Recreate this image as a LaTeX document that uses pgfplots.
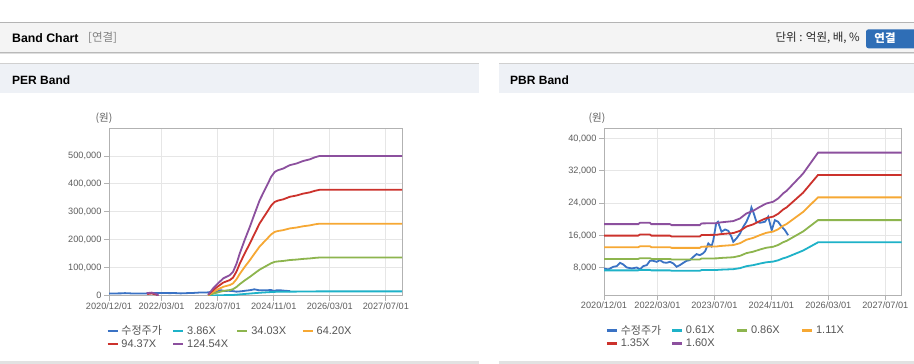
\documentclass[border=0pt]{standalone}
\usepackage{fontspec}
\setmainfont{Liberation Sans}
\newfontfamily\kr{Noto Sans CJK KR}
\usepackage{pgfplots}
\pgfplotsset{compat=1.18}
\usepackage{pgfplotstable}

\definecolor{cBlue}{RGB}{58,114,196}
\definecolor{cCyan}{RGB}{30,178,200}
\definecolor{cGreen}{RGB}{141,181,78}
\definecolor{cOrange}{RGB}{246,168,52}
\definecolor{cRed}{RGB}{204,50,44}
\definecolor{cPurple}{RGB}{140,80,158}
\definecolor{gridc}{RGB}{230,230,230}
\definecolor{axc}{RGB}{178,178,178}
\definecolor{tickc}{RGB}{95,95,95}
\definecolor{legc}{RGB}{85,85,85}
\definecolor{hdrbg}{RGB}{244,244,244}
\definecolor{topline}{RGB}{180,180,180}
\definecolor{shadowA}{RGB}{185,185,185}
\definecolor{shadowB}{RGB}{222,222,222}
\definecolor{panelbg}{RGB}{238,241,246}
\definecolor{panelline}{RGB}{208,208,208}
\definecolor{botc}{RGB}{226,226,226}
\definecolor{grayt}{RGB}{130,130,130}
\definecolor{darkt}{RGB}{40,40,40}
\definecolor{btn}{RGB}{47,110,182}

\pgfplotstableread{
m v
0 7835
1.2 7590
2.6 8250
3.6 8410
4.5 9240
5.4 8820
6.4 8080
7.8 7835
9.2 8080
10.1 7590
11.0 8410
12.0 8660
12.9 9730
13.8 9730
14.8 9480
15.7 9900
16.7 9320
17.6 9240
18.5 9480
19.5 9070
20.4 8250
21.3 8660
22.3 9240
23.2 9730
24.1 9900
25.1 10720
26.0 11380
26.9 11130
27.8 11550
28.4 12100
29.3 14020
30.2 13300
30.7 14840
31.5 19000
32.0 19380
33.0 16910
34.0 17480
34.9 17150
35.8 15670
36.3 14430
37.2 15260
38.2 16490
39.1 18140
40.0 19380
41.0 21440
41.4 22930
41.9 21850
42.8 19380
43.8 19130
45.2 19380
46.1 20620
47.1 17320
48.0 19790
48.9 19380
49.9 18140
50.8 17320
51.7 16080
}\price

\pgfplotstableread{
m c g o r p
28.3 116 1021 1926 2831 3736
29.7 807 7112 13418 19723 26029
31.1 1363 12013 22663 33313 43963
32.6 1922 16947 31972 46996 62021
34.5 2289 20180 38071 55961 73852
35.4 2656 23413 44170 64927 85684
36.4 3563 31410 59257 87104 114950
37.3 4678 41244 77810 114376 150942
38.7 6168 54380 102592 150803 199015
40.2 7654 67481 127309 187136 246963
41.6 9144 80617 152090 223563 295035
43.0 10600 93446 176293 259140 341987
44.9 12090 106582 201074 295567 390059
46.3 13205 116417 219628 322839 426051
47.3 13730 121045 228359 335673 442988
48.2 13915 122678 231441 340204 448967
49.7 14101 124312 234523 344734 454945
51.6 14475 127613 240750 353888 467025
53.5 14660 129246 243832 358418 473003
55.4 14938 131696 248454 365212 481970
57.3 15123 133330 251536 369742 487948
58.7 15344 135269 255195 375121 495047
60.1 15498 136630 257763 378896 500028
83.6 15498 136630 257763 378896 500028
}\per

\pgfplotstableread{
m c g o r p
0 7367 10199 13101 15957 18800
9.6 7367 10199 13101 15957 18800
10.1 7493 10373 13324 16228 19120
12.9 7493 10373 13324 16228 19120
13.3 7367 10199 13101 15957 18800
18.5 7367 10199 13101 15957 18800
19.0 7273 10069 12934 15753 18560
26.9 7273 10069 12934 15753 18560
27.4 7436 10294 13224 16106 18976
31.6 7461 10329 13269 16160 19040
32.6 7530 10425 13391 16310 19216
36.3 7662 10607 13625 16595 19552
38.2 7919 10963 14082 17152 20208
40.0 8402 11631 14941 18197 21440
41.9 8659 11987 15398 18754 22096
43.8 9048 12525 16089 19596 23088
45.6 9367 12968 16658 20289 23904
47.5 9537 13202 16959 20655 24336
48.9 9856 13645 17528 21348 25152
50.3 10346 14322 18398 22407 26400
51.3 10596 14669 18844 22950 27040
55.9 12264 16978 21809 26562 31296
60.1 14296 19790 25422 30962 36480
83.6 14296 19790 25422 30962 36480
}\pbr

\newcommand{\lstrut}{\vrule height 8.5pt depth 3.3pt width 0pt}
\newcommand{\legE}[2]{\makebox[#1][l]{\lstrut #2}}

\pgfplotsset{
  bandaxis/.style={
    scale only axis,
    anchor=south west,
    xmin=0, xmax=83.6,
    xtick={0,15,31,47,63,79},
    xticklabels={2020/12/01,2022/03/01,2023/07/01,2024/11/01,2026/03/01,2027/07/01},
    grid=major,
    major grid style={gridc, line width=0.8pt},
    axis line style={axc, line width=0.9pt},
    tick align=outside,
    xtick pos=left,
    ytick pos=left,
    tick style={axc, line width=0.8pt},
    major tick length=5pt,
    ticklabel style={font=\fontsize{9.2}{10}\selectfont, text=tickc},
    /pgf/number format/assume math mode=true,
    yticklabel style={/pgf/number format/fixed, /pgf/number format/1000 sep={,}, xshift=1pt},
    xticklabel style={yshift=1.5pt},
    scaled y ticks=false,
    every axis plot/.append style={line width=1.8pt, mark=none},
    legend columns=4,
    legend cell align=left,
    legend image code/.code={\draw[##1, line width=2.4pt] (0pt,0pt) -- (10pt,0pt); \path (13pt,0pt);},
    legend style={draw=none, fill=none, inner sep=0pt, outer sep=0pt,
      font=\fontsize{11}{12}\selectfont, text=legc,
      nodes={inner sep=0pt, outer sep=0pt, font=\fontsize{11}{12}\selectfont, text=legc},
      row sep=2.8pt, column sep=0pt,
      anchor=north west},
  }
}

\begin{document}
\begin{tikzpicture}[x=1pt,y=1pt]
\useasboundingbox (0,0) rectangle (914,364);
\fill[white] (0,0) rectangle (914,364);
% top header bar
\fill[hdrbg] (0,312) rectangle (914,341.5);
\draw[topline, line width=1pt] (0,341.5) -- (914,341.5);
\draw[shadowA, line width=1pt] (0,311.5) -- (914,311.5);
\draw[shadowB, line width=1pt] (0,310.5) -- (914,310.5);
\node[anchor=west, inner sep=0pt, font=\bfseries\fontsize{12.3}{14}\selectfont] at (12,326) {Band Chart};
\node[anchor=west, inner sep=0pt, text=grayt, font=\kr\fontsize{11.5}{14}\selectfont] at (88,326) {[연결]};
\node[anchor=east, inner sep=0pt, text=darkt, font=\kr\fontsize{11.5}{14}\selectfont] at (860,326) {단위 : 억원, 배, \%};
\begin{scope}
\clip (0,0) rectangle (914,364);
\fill[btn, rounded corners=2.5pt] (866,315.7) rectangle (920,334.7);
\end{scope}
\node[text=white, inner sep=0pt, font=\kr\bfseries\fontsize{11.5}{14}\selectfont] at (885,325.5) {연결};
% panel headers
\fill[panelbg] (0,271) rectangle (479,299.5);
\fill[panelbg] (499,271) rectangle (914,299.5);
\draw[panelline, line width=1pt] (0,300) -- (479,300);
\draw[panelline, line width=1pt] (499,300) -- (914,300);
\node[anchor=west, inner sep=0pt, font=\bfseries\fontsize{12}{14}\selectfont] at (12,284) {PER Band};
\node[anchor=west, inner sep=0pt, font=\bfseries\fontsize{12}{14}\selectfont] at (510,284) {PBR Band};
\fill[botc] (0,0) rectangle (479,2.5);
\fill[botc] (499,0) rectangle (914,2.5);
% unit labels
\node[text=tickc, inner sep=0pt, font=\kr\fontsize{10.5}{12}\selectfont] at (104,246) {(원)};
\node[text=tickc, inner sep=0pt, font=\kr\fontsize{10.5}{12}\selectfont] at (597,246) {(원)};

% PER chart
\begin{axis}[bandaxis, at={(109pt,68.3pt)}, width=293pt, height=167.7pt,
  ymin=0, ymax=600000,
  ytick={0,100000,200000,300000,400000,500000},
  legend style={at={(0,0)}, xshift=-2.7pt, yshift=-30.2pt}]
\addplot[cBlue] table[x=m,y=v]{\price};
\addlegendentry{\legE{50.7pt}{\kr 수정주가}}
\addplot[cCyan] table[x=m,y=c]{\per};
\addlegendentry{\legE{49pt}{3.86X}}
\addplot[cGreen] table[x=m,y=g]{\per};
\addlegendentry{\legE{50.3pt}{34.03X}}
\addplot[cOrange] table[x=m,y=o]{\per};
\addlegendentry{\legE{40pt}{64.20X}}
\addplot[cRed] table[x=m,y=r]{\per};
\addlegendentry{\legE{50.7pt}{94.37X}}
\addplot[cPurple] table[x=m,y=p]{\per};
\addlegendentry{\legE{49pt}{124.54X}}
\addplot[cRed, forget plot] coordinates {(10.9,6000) (12.2,8000) (13.5,4000) (14.1,300)};
\addplot[cPurple, forget plot] coordinates {(10.7,9000) (12.2,11000) (13.5,6000) (14.1,500)};
\end{axis}

% PBR chart
\begin{axis}[bandaxis, at={(604pt,68.7pt)}, width=297.7pt, height=167pt,
  ymin=1200, ymax=42500,
  ytick={8000,16000,24000,32000,40000},
  legend style={at={(0,0)}, xshift=1.7pt, yshift=-29.8pt}]
\addplot[cBlue] table[x=m,y=v]{\price};
\addlegendentry{\legE{50pt}{\kr 수정주가}}
\addplot[cCyan] table[x=m,y=c]{\pbr};
\addlegendentry{\legE{50pt}{0.61X}}
\addplot[cGreen] table[x=m,y=g]{\pbr};
\addlegendentry{\legE{50pt}{0.86X}}
\addplot[cOrange] table[x=m,y=o]{\pbr};
\addlegendentry{\legE{40pt}{1.11X}}
\addplot[cRed] table[x=m,y=r]{\pbr};
\addlegendentry{\legE{50pt}{1.35X}}
\addplot[cPurple] table[x=m,y=p]{\pbr};
\addlegendentry{\legE{50pt}{1.60X}}
\end{axis}
\end{tikzpicture}
\end{document}
